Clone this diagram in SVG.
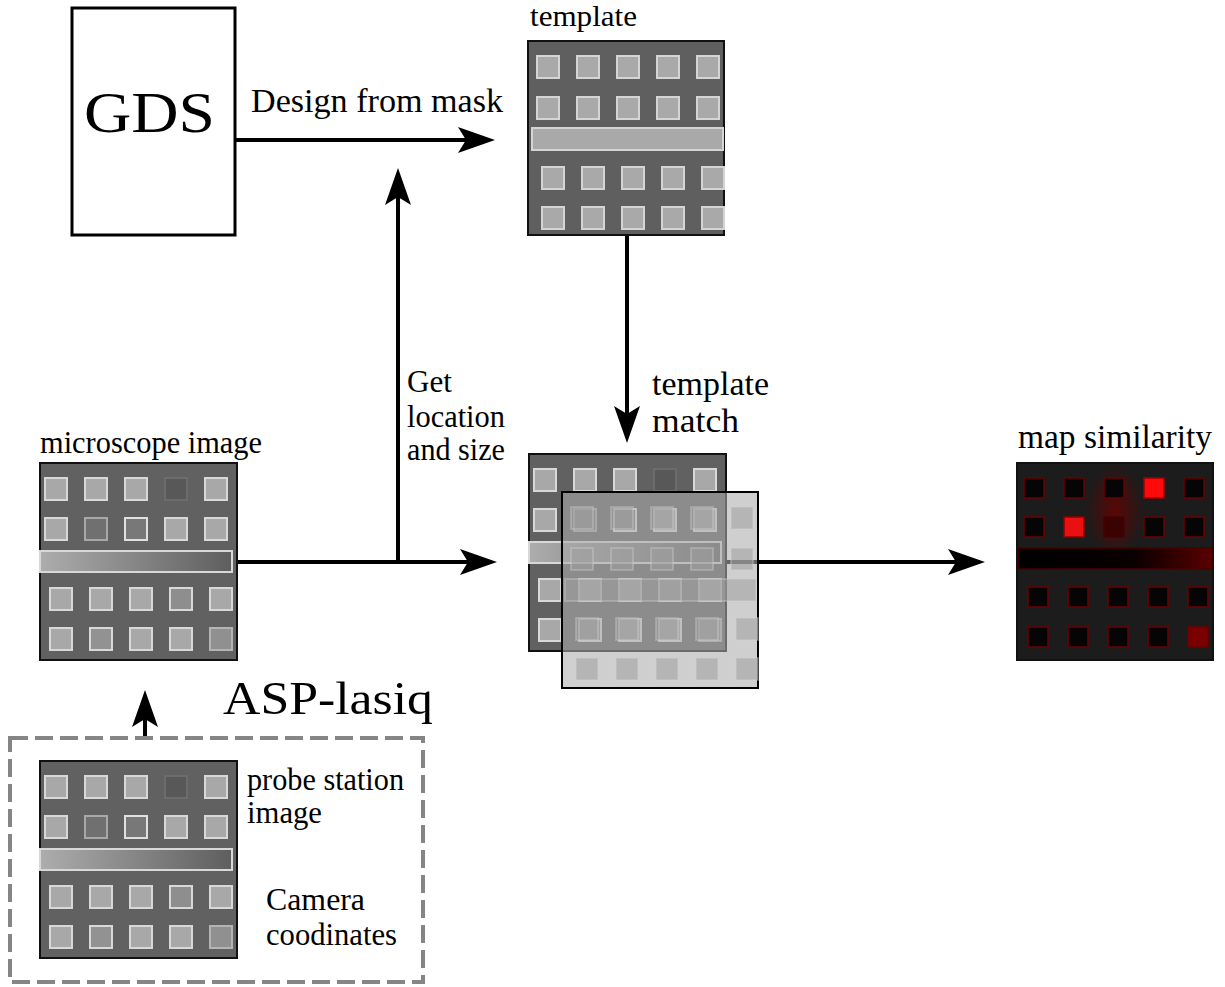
<svg xmlns="http://www.w3.org/2000/svg" xmlns:xlink="http://www.w3.org/1999/xlink" width="1225" height="987" viewBox="0 0 1225 987">
  <style>
    .conn { stroke: #000; stroke-width: 4; fill: none; marker-end: url(#head); }
    .frame { stroke: #111; stroke-width: 2; }
    .sq { fill: #a8a8a8; stroke: #d8d8d8; stroke-width: 2; }
    .tsq { fill: #a9a9a9; stroke: #d4d4d4; stroke-width: 2; }
    .fsq { fill: #a0a0a0; fill-opacity: 0.55; stroke: #d0d0d0; stroke-opacity: 0.35; stroke-width: 2; }
    .msq { fill: #050505; stroke: #6a0000; stroke-width: 1.5; }
  </style>
  <defs>
    <marker id="head" viewBox="-40 -15 42 30" refX="-20" refY="0" markerWidth="42" markerHeight="30" markerUnits="userSpaceOnUse" orient="auto">
      <path d="M0,0 L-37,-13 L-29,0 L-37,13 Z" fill="#000"/>
    </marker>
    <linearGradient id="camBar" x1="0" y1="0" x2="1" y2="0">
      <stop offset="0" stop-color="#adadad"/>
      <stop offset="1" stop-color="#5e5e5e"/>
    </linearGradient>
    <linearGradient id="simBar" x1="0" y1="0" x2="1" y2="0">
      <stop offset="0" stop-color="#000"/>
      <stop offset="0.6" stop-color="#0a0000"/>
      <stop offset="1" stop-color="#5a0000"/>
    </linearGradient>
    <radialGradient id="glow" cx="0.5" cy="0.5" r="0.5">
      <stop offset="0" stop-color="#6a0000" stop-opacity="0.8"/>
      <stop offset="1" stop-color="#6a0000" stop-opacity="0"/>
    </radialGradient>

    <!-- camera frame: grid of pads with a horizontal strip, a few pads darker -->
    <g id="camera">
      <rect x="0" y="0" width="197" height="197" fill="#616161" class="frame"/>
      <rect class="sq" x="5" y="15" width="22" height="22"/>
      <rect class="sq" x="45" y="15" width="22" height="22"/>
      <rect class="sq" x="85" y="15" width="22" height="22"/>
      <rect x="125" y="15" width="22" height="22" fill="#585858" stroke="#6c6c6c" stroke-width="2"/>
      <rect class="sq" x="165" y="15" width="22" height="22"/>
      <rect class="sq" x="5" y="55" width="22" height="22"/>
      <rect x="45" y="55" width="22" height="22" fill="#707070" stroke="#a8a8a8" stroke-width="2"/>
      <rect x="85" y="55" width="22" height="22" fill="#787878" stroke="#e0e0e0" stroke-width="2"/>
      <rect class="sq" x="125" y="55" width="22" height="22"/>
      <rect class="sq" x="165" y="55" width="22" height="22"/>
      <rect x="0" y="88" width="192" height="21" fill="url(#camBar)" stroke="#d8d8d8" stroke-width="2"/>
      <rect class="sq" x="10" y="125" width="22" height="22"/>
      <rect class="sq" x="50" y="125" width="22" height="22"/>
      <rect class="sq" x="90" y="125" width="22" height="22"/>
      <rect x="130" y="125" width="22" height="22" fill="#8e8e8e" stroke="#d8d8d8" stroke-width="2"/>
      <rect class="sq" x="170" y="125" width="22" height="22"/>
      <rect class="sq" x="10" y="165" width="22" height="22"/>
      <rect x="50" y="165" width="22" height="22" fill="#929292" stroke="#d8d8d8" stroke-width="2"/>
      <rect class="sq" x="90" y="165" width="22" height="22"/>
      <rect class="sq" x="130" y="165" width="22" height="22"/>
      <rect x="170" y="165" width="22" height="22" fill="#909090" stroke="#b4b4b4" stroke-width="2"/>
    </g>
  </defs>

  <!-- connectors -->
  <g id="connectors">
    <line class="conn" x1="236" y1="140" x2="475" y2="140"/>
    <line class="conn" x1="398" y1="562" x2="398" y2="188"/>
    <line class="conn" x1="237" y1="562" x2="477" y2="562"/>
    <line class="conn" x1="627" y1="235" x2="627" y2="423"/>
    <line class="conn" x1="725" y1="562" x2="965" y2="562"/>
    <line class="conn" x1="145" y1="738" x2="145" y2="710"/>
  </g>

  <!-- all labels use a serif face -->
  <g font-family="Liberation Serif, Times New Roman, serif" fill="#000">

  <!-- GDS source -->
  <g id="gds">
    <rect x="72" y="8" width="163" height="227" fill="#fff" stroke="#000" stroke-width="3"/>
    <text x="84" y="132" font-size="56" textLength="131" lengthAdjust="spacingAndGlyphs">GDS</text>
  </g>

  <text id="lbl-design" x="251" y="112" font-size="34" textLength="252" lengthAdjust="spacingAndGlyphs">Design from mask</text>

  <!-- template -->
  <g id="template">
    <text x="530" y="26" font-size="29" textLength="107" lengthAdjust="spacingAndGlyphs">template</text>
    <g transform="translate(528,41)">
      <rect x="0" y="0" width="196" height="194" fill="#5f5f5f" class="frame"/>
      <rect class="tsq" x="9" y="15" width="22" height="22"/>
      <rect class="tsq" x="49" y="15" width="22" height="22"/>
      <rect class="tsq" x="89" y="15" width="22" height="22"/>
      <rect class="tsq" x="129" y="15" width="22" height="22"/>
      <rect class="tsq" x="169" y="15" width="22" height="22"/>
      <rect class="tsq" x="9" y="56" width="22" height="22"/>
      <rect class="tsq" x="49" y="56" width="22" height="22"/>
      <rect class="tsq" x="89" y="56" width="22" height="22"/>
      <rect class="tsq" x="129" y="56" width="22" height="22"/>
      <rect class="tsq" x="169" y="56" width="22" height="22"/>
      <rect class="tsq" x="4" y="87" width="191" height="22"/>
      <rect class="tsq" x="14" y="126" width="22" height="22"/>
      <rect class="tsq" x="54" y="126" width="22" height="22"/>
      <rect class="tsq" x="94" y="126" width="22" height="22"/>
      <rect class="tsq" x="134" y="126" width="22" height="22"/>
      <rect class="tsq" x="174" y="126" width="22" height="22"/>
      <rect class="tsq" x="14" y="166" width="22" height="22"/>
      <rect class="tsq" x="54" y="166" width="22" height="22"/>
      <rect class="tsq" x="94" y="166" width="22" height="22"/>
      <rect class="tsq" x="134" y="166" width="22" height="22"/>
      <rect class="tsq" x="174" y="166" width="22" height="22"/>
    </g>
  </g>

  <g id="lbl-get" font-size="31">
    <text x="407" y="392" textLength="45" lengthAdjust="spacingAndGlyphs">Get</text>
    <text x="407" y="427" textLength="98" lengthAdjust="spacingAndGlyphs">location</text>
    <text x="407" y="460" textLength="98" lengthAdjust="spacingAndGlyphs">and size</text>
  </g>

  <g id="lbl-match" font-size="34">
    <text x="652" y="395" textLength="117" lengthAdjust="spacingAndGlyphs">template</text>
    <text x="652" y="432" textLength="87" lengthAdjust="spacingAndGlyphs">match</text>
  </g>

  <!-- microscope image -->
  <g id="microscope">
    <text x="40" y="453" font-size="31" textLength="222" lengthAdjust="spacingAndGlyphs">microscope image</text>
    <use xlink:href="#camera" href="#camera" x="40" y="463"/>
  </g>

  <!-- template matching: camera frame with the template overlaid -->
  <g id="match">
    <use xlink:href="#camera" href="#camera" x="529" y="454"/>
    <g transform="translate(562,492)">
      <rect x="0" y="0" width="196" height="196" fill="#adadad" fill-opacity="0.58" stroke="#000" stroke-width="2"/>
      <rect class="fsq" x="9" y="15" width="22" height="22"/>
      <rect class="fsq" x="49" y="15" width="22" height="22"/>
      <rect class="fsq" x="89" y="15" width="22" height="22"/>
      <rect class="fsq" x="129" y="15" width="22" height="22"/>
      <rect class="fsq" x="169" y="15" width="22" height="22"/>
      <rect class="fsq" x="9" y="56" width="22" height="22"/>
      <rect class="fsq" x="49" y="56" width="22" height="22"/>
      <rect class="fsq" x="89" y="56" width="22" height="22"/>
      <rect class="fsq" x="129" y="56" width="22" height="22"/>
      <rect class="fsq" x="169" y="56" width="22" height="22"/>
      <rect class="fsq" x="3" y="87" width="191" height="22"/>
      <rect class="fsq" x="14" y="126" width="22" height="22"/>
      <rect class="fsq" x="54" y="126" width="22" height="22"/>
      <rect class="fsq" x="94" y="126" width="22" height="22"/>
      <rect class="fsq" x="134" y="126" width="22" height="22"/>
      <rect class="fsq" x="174" y="126" width="22" height="22"/>
      <rect class="fsq" x="14" y="166" width="22" height="22"/>
      <rect class="fsq" x="54" y="166" width="22" height="22"/>
      <rect class="fsq" x="94" y="166" width="22" height="22"/>
      <rect class="fsq" x="134" y="166" width="22" height="22"/>
      <rect class="fsq" x="174" y="166" width="22" height="22"/>
    </g>
  </g>

  <!-- similarity map -->
  <g id="similarity">
    <text x="1018" y="448" font-size="33" textLength="194" lengthAdjust="spacingAndGlyphs">map similarity</text>
    <g transform="translate(1017,463)">
      <rect x="0" y="0" width="196" height="197" fill="#1c1c1c" class="frame"/>
      <ellipse cx="98" cy="48" rx="30" ry="48" fill="url(#glow)"/>
      <rect class="msq" x="7" y="15" width="20" height="20"/>
      <rect class="msq" x="47" y="15" width="20" height="20"/>
      <rect class="msq" x="87" y="15" width="20" height="20"/>
      <rect x="127" y="15" width="20" height="20" fill="#ff0a0a" stroke="#a00000" stroke-width="1.5"/>
      <rect class="msq" x="167" y="15" width="20" height="20"/>
      <rect class="msq" x="7" y="54" width="20" height="20"/>
      <rect x="47" y="54" width="20" height="20" fill="#e81010" stroke="#900000" stroke-width="1.5"/>
      <rect x="87" y="54" width="20" height="20" fill="#3a0303" stroke="#4a0000" stroke-width="1.5"/>
      <rect class="msq" x="127" y="54" width="20" height="20"/>
      <rect class="msq" x="167" y="54" width="20" height="20"/>
      <rect x="1" y="85" width="194" height="21" fill="url(#simBar)" stroke="#4a0000" stroke-width="1.5"/>
      <rect class="msq" x="11" y="124" width="20" height="20"/>
      <rect class="msq" x="51" y="124" width="20" height="20"/>
      <rect class="msq" x="91" y="124" width="20" height="20"/>
      <rect class="msq" x="131" y="124" width="20" height="20"/>
      <rect class="msq" x="171" y="124" width="20" height="20"/>
      <rect class="msq" x="11" y="164" width="20" height="20"/>
      <rect class="msq" x="51" y="164" width="20" height="20"/>
      <rect class="msq" x="91" y="164" width="20" height="20"/>
      <rect class="msq" x="131" y="164" width="20" height="20"/>
      <rect x="171" y="164" width="20" height="20" fill="#7a0000" stroke="#6a0000" stroke-width="1.5"/>
    </g>
  </g>

  <!-- ASP-lasiq probe station block -->
  <g id="asp-lasiq">
    <text x="223" y="714" font-size="46" textLength="210" lengthAdjust="spacingAndGlyphs">ASP-lasiq</text>
    <rect x="10" y="738" width="413" height="244" fill="none" stroke="#858585" stroke-width="4" stroke-dasharray="18 7"/>
    <use xlink:href="#camera" href="#camera" x="40" y="761"/>
    <g font-size="31">
      <text x="247" y="790" textLength="157" lengthAdjust="spacingAndGlyphs">probe station</text>
      <text x="247" y="823" textLength="75" lengthAdjust="spacingAndGlyphs">image</text>
      <text x="266" y="910" textLength="99" lengthAdjust="spacingAndGlyphs">Camera</text>
      <text x="266" y="945" textLength="131" lengthAdjust="spacingAndGlyphs">coodinates</text>
    </g>
  </g>

  </g>
</svg>
